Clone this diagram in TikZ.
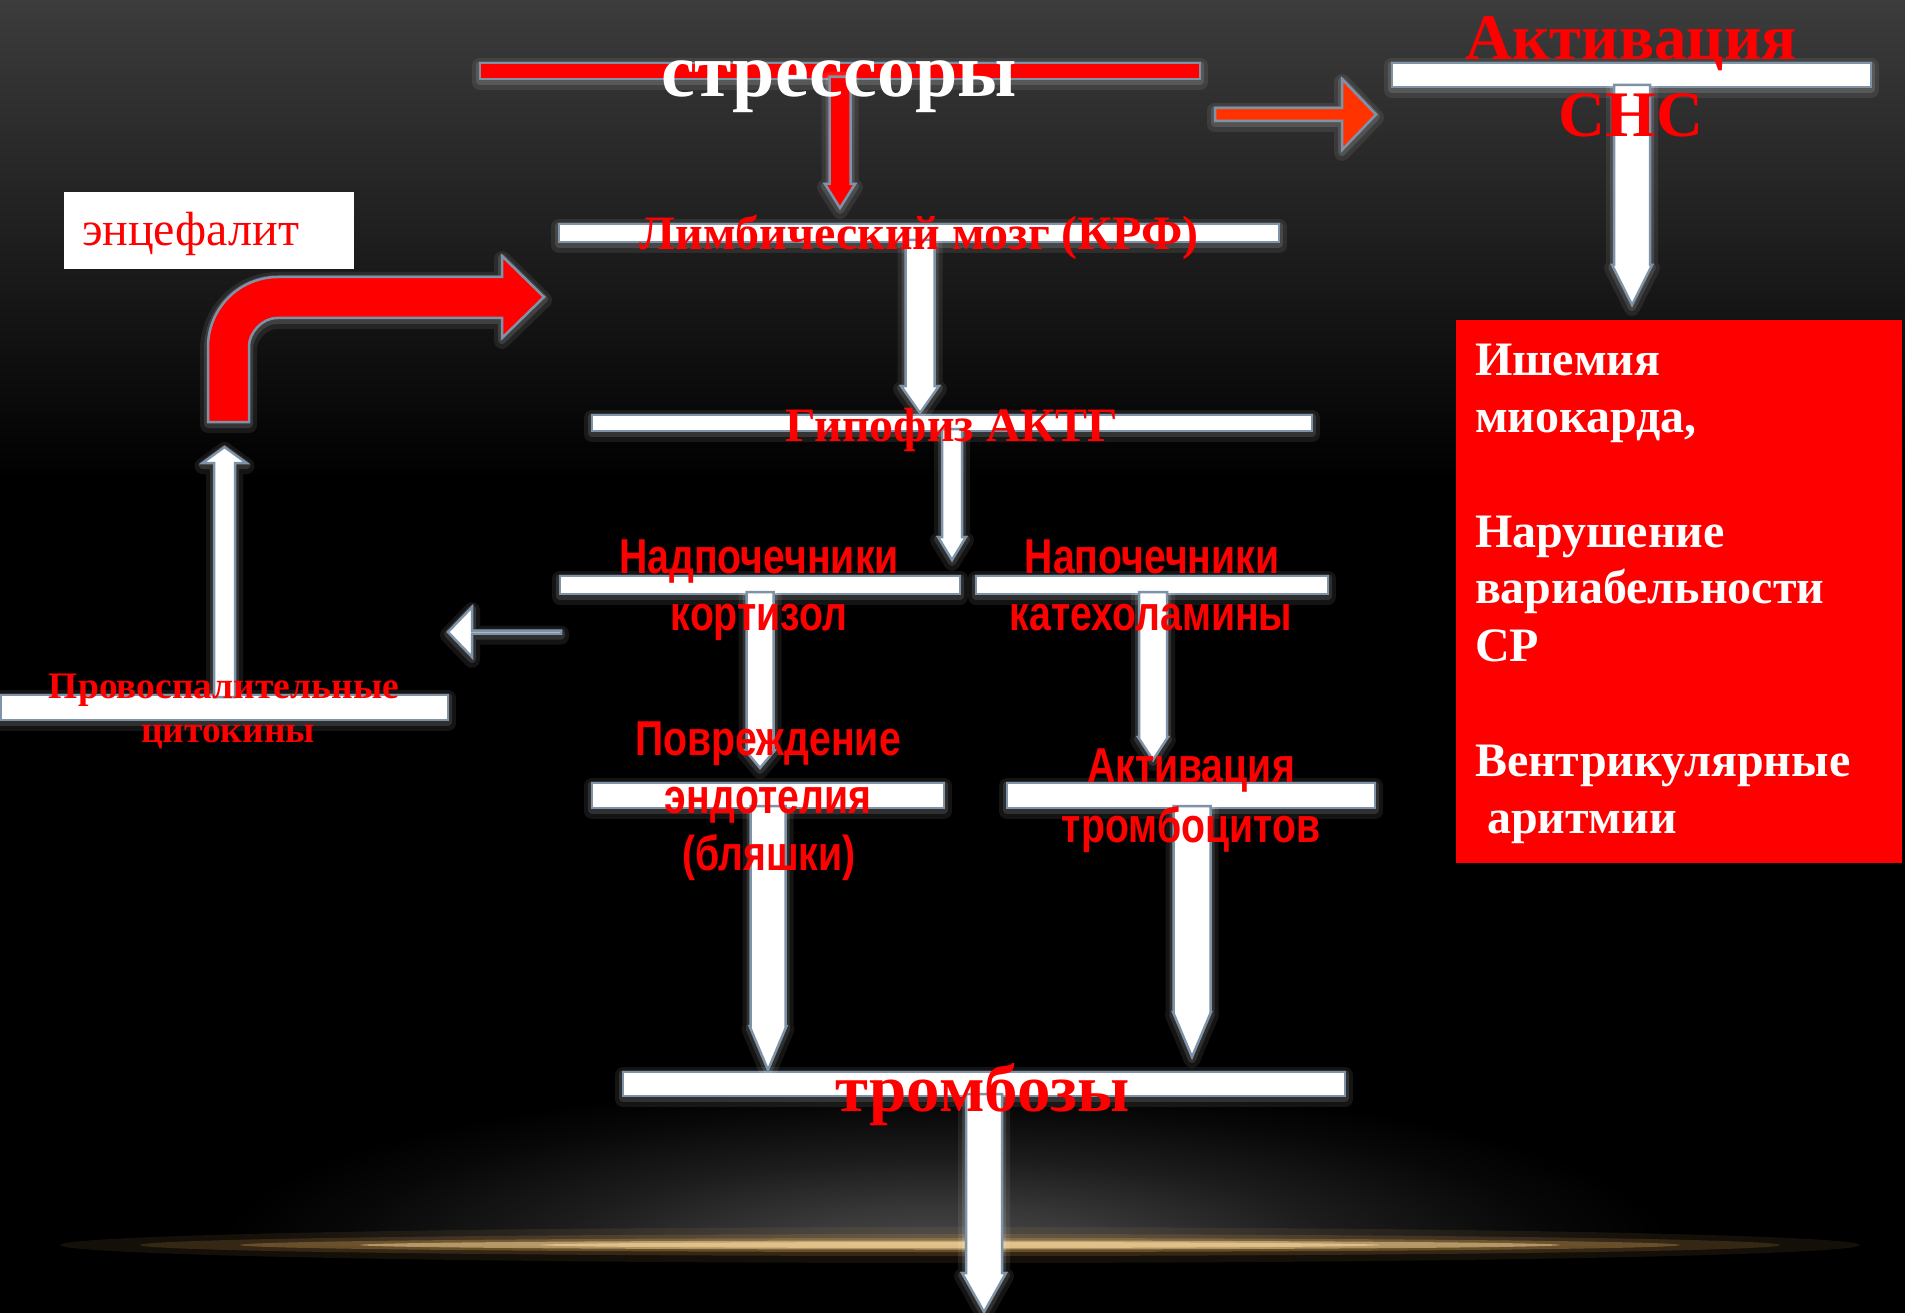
\documentclass[tikz,border=0pt]{standalone}
\usepackage{fontspec}
\setmainfont{Liberation Serif}
\newfontface\narrowbf[FakeStretch=0.8]{Liberation Sans Bold}
\usetikzlibrary{calc}
\definecolor{outl}{RGB}{127,147,168}
\definecolor{orred}{RGB}{255,51,0}
\definecolor{gold1}{RGB}{200,150,80}
\definecolor{gold2}{RGB}{240,208,150}
\pgfdeclareradialshading{bottomglow}{\pgfpoint{0bp}{0bp}}{rgb(0bp)=(0.29,0.29,0.29); rgb(6bp)=(0.22,0.22,0.22); rgb(13bp)=(0.11,0.11,0.11); rgb(20bp)=(0.03,0.03,0.03); rgb(24bp)=(0,0,0); rgb(50bp)=(0,0,0)}
\tikzset{
  every node/.style={inner sep=0pt, outer sep=0pt},
  glow/.style={preaction={draw=white, fill=none, draw opacity=0.08, line width=16pt, line join=round, transform canvas={yshift=-3pt}},
               preaction={draw=white, fill=none, draw opacity=0.12, line width=8pt, line join=round, transform canvas={yshift=-2pt}}},
  bar/.style={rectangle, draw=outl, line width=2.5pt, fill=white, glow},
  redbar/.style={bar, fill=red},
  warr/.style={draw=outl, line width=2.5pt, fill=white, line join=miter, glow},
  rarr/.style={warr, fill=red},
  oarr/.style={warr, fill=orred},
  sred/.style={text=red, font=\bfseries\fontsize{#1}{#1}\selectfont, anchor=base},
  swhite/.style={text=white, font=\bfseries\fontsize{#1}{#1}\selectfont, anchor=base},
  nred/.style={text=red, font=\narrowbf\fontsize{49}{57}\selectfont, anchor=base},
  boxtxt/.style={text=white, font=\bfseries\fontsize{48}{57}\selectfont, anchor=base west}
}
\newcommand\barnode[6]{\node[#6, minimum width={(#4)-(#2)}, minimum height={(#5)-(#3)}] (#1) at ({((#2)+(#4))/2},{((#3)+(#5))/2}) {};}
% vertical block arrow: style, start, tip, shaft half width, head half width, head base offset (signed)
\newcommand\varr[6]{\path[#1] ($(#2)+(-#4,0)$) -- ($(#3)+(-#4,#6)$) -- ($(#3)+(-#5,#6)$) -- (#3) -- ($(#3)+(#5,#6)$) -- ($(#3)+(#4,#6)$) -- ($(#2)+(#4,0)$) -- cycle;}
% horizontal block arrow
\newcommand\harr[6]{\path[#1] ($(#2)+(0,-#4)$) -- ($(#3)+(#6,-#4)$) -- ($(#3)+(#6,-#5)$) -- (#3) -- ($(#3)+(#6,#5)$) -- ($(#3)+(#6,#4)$) -- ($(#2)+(0,#4)$) -- cycle;}
\begin{document}
\begin{tikzpicture}[x=1pt,y=-1pt]
\useasboundingbox (0,0) rectangle (1905,1313);
% background
\fill[black] (0,0) rectangle (1905,1313);
\shade[top color={rgb,255:red,60;green,60;blue,60}, bottom color=black] (0,0) rectangle (1905,480);
\begin{scope}
  \clip (0,1000) rectangle (1905,1245);
  \shade[shading=bottomglow] (945,1252) ellipse [x radius=760, y radius=180];
\end{scope}
\fill[gold1, opacity=0.10] (960,1245) ellipse [x radius=900, y radius=18];
\fill[gold1, opacity=0.18] (960,1245) ellipse [x radius=820, y radius=11];
\fill[gold1, opacity=0.35] (960,1245) ellipse [x radius=720, y radius=7];
\fill[gold2, opacity=0.55] (960,1245) ellipse [x radius=600, y radius=4.5];
\fill[gold2, opacity=0.7] (960,1245) ellipse [x radius=420, y radius=3];

% bars
\barnode{str}{480}{63}{1200}{79}{redbar}
\barnode{snc}{1392}{63}{1871}{87}{bar}
\barnode{lim}{559}{224}{1279}{242}{bar}
\barnode{hyp}{592}{415}{1312}{431}{bar}
\barnode{adr}{560}{576}{960}{594}{bar}
\barnode{cat}{976}{576}{1328}{594}{bar}
\barnode{dam}{592}{783}{944}{808}{bar}
\barnode{plt}{1007}{783}{1375}{808}{bar}
\barnode{thr}{623}{1072}{1345}{1096}{bar}
\barnode{cyt}{1}{695}{448}{720}{bar}

% arrow tips and starts
\coordinate (t1) at (840,208);   \coordinate (s1) at ($(str.south -| t1)+(0,-2)$);
\coordinate (s2) at ($(str.east)+(15,43.5)$); \coordinate (t2) at (1376,114.5);
\coordinate (t3) at (1632,305);  \coordinate (s3) at ($(snc.south -| t3)+(0,-2)$);
\coordinate (t4) at (920,413);   \coordinate (s4) at ($(lim.south -| t4)+(0,-2)$);
\coordinate (t5) at (952,560);   \coordinate (s5) at ($(hyp.south -| t5)+(0,-2)$);
\coordinate (t6) at (760,768);   \coordinate (s6) at ($(adr.south -| t6)+(0,-2)$);
\coordinate (t7) at (1153,760);  \coordinate (s7) at ($(cat.south -| t7)+(0,-2)$);
\coordinate (t8) at (768,1070);  \coordinate (s8) at ($(dam.south -| t8)+(0,-2)$);
\coordinate (t9) at (1192,1057); \coordinate (s9) at ($(plt.south -| t9)+(0,-2)$);
\coordinate (t10) at (984,1312); \coordinate (s10) at ($(thr.south -| t10)+(0,-2)$);
\coordinate (t11) at (224.5,447); \coordinate (s11) at ($(cyt.north -| t11)+(0,2)$);
\coordinate (s12) at ($(adr.south west)+(1,38)$); \coordinate (t12) at (448,632);

\varr{rarr}{s1}{t1}{10.5}{15}{-24}
\harr{oarr}{s2}{t2}{6.5}{35.5}{-34}
\varr{warr}{s3}{t3}{18}{20}{-40}
\varr{warr}{s4}{t4}{14.5}{19}{-27}
\varr{warr}{s5}{t5}{10}{14}{-23}
\varr{warr}{s6}{t6}{13.5}{15}{-18}
\varr{warr}{s7}{t7}{14}{15}{-23}
\varr{warr}{s8}{t8}{17.5}{18.5}{-44}
\varr{warr}{s9}{t9}{18.5}{19}{-45}
\varr{warr}{s10}{t10}{18}{22}{-39}
\varr{warr}{s11}{t11}{10.5}{22}{16}
\harr{warr}{s12}{t12}{1.5}{25}{24}

% bent red arrow (encephalitis -> limbic brain)
\coordinate (bentT) at (544,297);
\path[rarr] (208,422) -- (208,347) .. controls (208,308.3) and (239.3,277) .. (278,277)
  -- (502,277) -- (502,256) -- (bentT) -- (502,338) -- (502,318) -- (277,318)
  .. controls (261.5,318) and (249,333.5) .. (249,346) -- (249,422) -- cycle;

% texts
\node[swhite=76] (strT) at (839,97) {стрессоры};
\node[sred=65] (sncT1) at (1631,60) {Активация};
\node[sred=65] (sncT2) at (1631,137) {СНС};
\node[sred=48] (limT) at (919,250) {Лимбический мозг (КРФ)};
\node[sred=48] (hypT) at (952,441) {Гипофиз АКТГ};
\node[sred=67] (thrT) at (983,1111) {тромбозы};
\node[sred=37.5] (cytT1) at (224,698) {Провоспалительные};
\node[sred=37.5] (cytT2) at (228,742) {цитокины};
\node[nred] (adrT1) at (759,573) {Надпочечники};
\node[nred] (adrT2) at (759,630) {кортизол};
\node[nred] (catT1) at (1152,573) {Напочечники};
\node[nred] (catT2) at (1151,630) {катехоламины};
\node[nred] (damT1) at (768,755) {Повреждение};
\node[nred] (damT2) at (768,813) {эндотелия};
\node[nred] (damT3) at (769,870) {(бляшки)};
\node[nred] (pltT1) at (1191,782) {Активация};
\node[nred] (pltT2) at (1191,842) {тромбоцитов};

% encephalitis box
\node[fill=white, minimum width=290, minimum height=77] (enc) at (209,231) {};
\node[anchor=base west, text=red, font=\fontsize{48}{48}\selectfont] (encT) at (82,246) {энцефалит};

% consequences box
\node[fill=red, minimum width=446, minimum height=543] (isch) at (1679,591.5) {};
\node[boxtxt] (i1) at (1475,375) {Ишемия};
\node[boxtxt] (i2) at (1475,432) {миокарда,};
\node[boxtxt] (i3) at (1475,547) {Нарушение};
\node[boxtxt] (i4) at (1475,603) {вариабельности};
\node[boxtxt] (i5) at (1475,661) {СР};
\node[boxtxt] (i6) at (1475,776) {Вентрикулярные};
\node[boxtxt] (i7) at (1487,833) {аритмии};
\end{tikzpicture}
\end{document}
